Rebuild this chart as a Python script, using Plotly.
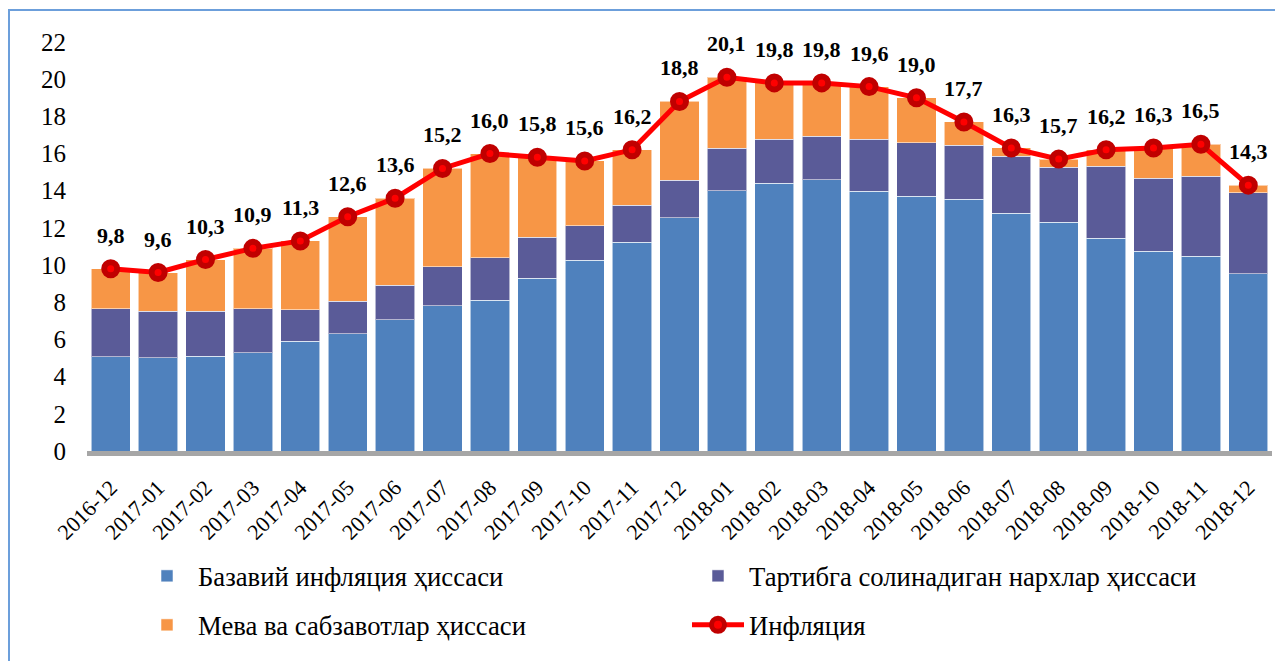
import plotly.graph_objects as go

months = ["2016-12", "2017-01", "2017-02", "2017-03", "2017-04", "2017-05", "2017-06",
          "2017-07", "2017-08", "2017-09", "2017-10", "2017-11", "2017-12",
          "2018-01", "2018-02", "2018-03", "2018-04", "2018-05", "2018-06",
          "2018-07", "2018-08", "2018-09", "2018-10", "2018-11", "2018-12"]

core = [5.07, 5.01, 5.09, 5.28, 5.91, 6.32, 7.05, 7.80, 8.12, 9.30, 10.26, 11.24, 12.56,
        14.01, 14.40, 14.60, 13.97, 13.70, 13.53, 12.79, 12.30, 11.44, 10.74, 10.48, 9.53]
regulated = [2.57, 2.50, 2.42, 2.36, 1.69, 1.73, 1.87, 2.12, 2.28, 2.21, 1.85, 1.98, 2.00,
             2.28, 2.36, 2.33, 2.80, 2.88, 2.92, 3.07, 2.97, 3.87, 3.93, 4.30, 4.37]
fruit = [2.16, 2.09, 2.79, 3.26, 3.70, 4.55, 4.68, 5.28, 5.60, 4.29, 3.49, 2.98, 4.24,
         3.81, 3.04, 2.87, 2.83, 2.42, 1.25, 0.44, 0.43, 0.89, 1.63, 1.72, 0.40]
inflation = [9.8, 9.6, 10.3, 10.9, 11.3, 12.6, 13.6, 15.2, 16.0, 15.8, 15.6, 16.2, 18.8,
             20.1, 19.8, 19.8, 19.6, 19.0, 17.7, 16.3, 15.7, 16.2, 16.3, 16.5, 14.3]

names = ["Базавий инфляция ҳиссаси", "Тартибга солинадиган нархлар ҳиссаси",
         "Мева ва сабзавотлар ҳиссаси", "Инфляция"]

FONT = "Liberation Serif, 'Times New Roman', Tinos, 'DejaVu Serif', serif"
BLUE, PURPLE, ORANGE = "#4F81BD", "#5A5B98", "#F79646"

fig = go.Figure()
edge = dict(color="rgba(255,255,255,0.55)", width=1)
fig.add_trace(go.Bar(x=months, y=core, name=names[0], marker=dict(color=BLUE, line=edge),
                     legend="legend"))
fig.add_trace(go.Bar(x=months, y=regulated, name=names[1], marker=dict(color=PURPLE, line=edge),
                     legend="legend"))
fig.add_trace(go.Bar(x=months, y=fruit, name=names[2], marker=dict(color=ORANGE, line=edge),
                     legend="legend2"))
fig.add_trace(go.Scatter(x=months, y=inflation, name=names[3], mode="lines+markers",
                         line=dict(color="#FF0000", width=5),
                         marker=dict(color="#FF0000", size=13, line=dict(color="#C00000", width=6)),
                         legend="legend2"))

for m, v in zip(months, inflation):
    fig.add_annotation(x=m, y=v, text=f"{v:.1f}".replace(".", ","), showarrow=False,
                       yanchor="bottom", yshift=19,
                       font=dict(family=FONT, size=22, color="black", weight="bold"))

L, R, T, B = 87, 3, 42, 210
W, H = 1275, 661
pw, ph = W - L - R, H - T - B
fig.add_shape(type="rect", xref="paper", yref="paper",
              x0=(9 - L) / pw, x1=1.2, y0=-1.0, y1=(H - B - 10) / ph,
              line=dict(color="#6C9FDB", width=2), fillcolor="rgba(0,0,0,0)", layer="below")

legend_common = dict(orientation="h", xref="container", yref="container",
                     xanchor="left", yanchor="middle", entrywidth=484, entrywidthmode="pixels",
                     itemwidth=52, font=dict(family=FONT, size=26.7, color="black"),
                     bgcolor="rgba(0,0,0,0)", traceorder="normal")

fig.update_layout(
    width=W, height=H,
    margin=dict(l=L, r=R, t=T, b=B, autoexpand=False),
    barmode="stack", bargap=0.17,
    plot_bgcolor="white", paper_bgcolor="white",
    font=dict(family=FONT, color="black"),
    showlegend=True,
    legend=dict(x=136 / W, y=(H - 576) / H, **legend_common),
    legend2=dict(x=136 / W, y=(H - 625) / H, **legend_common),
    xaxis=dict(type="category", range=[-0.5, len(months) - 0.5], tickangle=-45,
               showline=True, linecolor="#A6A6A6", linewidth=5,
               showgrid=False, zeroline=False, ticks="", tickfont=dict(family=FONT, size=22),
               ticklabelstandoff=10, automargin=False),
    yaxis=dict(range=[0, 22], dtick=2, showgrid=False, zeroline=False, showline=False, ticks="",
               tickfont=dict(family=FONT, size=25), ticklabelstandoff=20, automargin=False),
)

fig.write_html("out.html", config={"displayModeBar": False},
               post_script="document.body.style.margin='0';document.body.style.padding='0';")
